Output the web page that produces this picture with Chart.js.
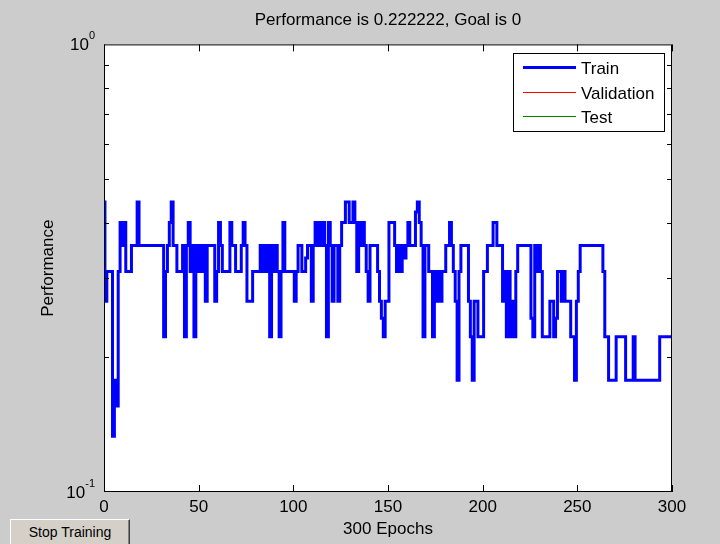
<!DOCTYPE html>
<html>
<head>
<meta charset="utf-8">
<script src="https://cdn.jsdelivr.net/npm/chart.js@4.4.0/dist/chart.umd.min.js"></script>
<style>
  html, body { margin: 0; padding: 0; background: #cccccc; }
  #wrap { position: relative; width: 720px; height: 544px; overflow: hidden; }
  #perf { position: absolute; left: 0; top: 0; }
  #stop {
    position: absolute; left: 10px; top: 519px; width: 120px; height: 30px;
    background: #d4d0c8; color: #000; padding: 0 0 4px 0; margin: 0;
    border: 1px solid; border-color: #ffffff #404040 #404040 #ffffff;
    box-shadow: inset -1px -1px 0 #808080;
    font: 14px 'Liberation Sans', Arial, sans-serif;
  }
</style>
</head>
<body>
<div id="wrap">
  <canvas id="perf" width="720" height="544"></canvas>
  <button id="stop">Stop Training</button>
</div>
<script>
// training performance per epoch (0..300)
const trainPerf = [
  0.4444, 0.2667, 0.3111, 0.3111, 0.3111, 0.1333, 0.1778, 0.1556, 0.3111, 0.4,
  0.3556, 0.4, 0.3111, 0.3111, 0.3111, 0.3556, 0.3556, 0.3556, 0.4444, 0.3556,
  0.3556, 0.3556, 0.3556, 0.3556, 0.3556, 0.3556, 0.3556, 0.3556, 0.3556, 0.3556,
  0.3556, 0.3556, 0.2222, 0.3111, 0.3556, 0.4, 0.4444, 0.3556, 0.3556, 0.3111,
  0.3111, 0.3111, 0.3556, 0.2222, 0.3556, 0.4, 0.3111, 0.3556, 0.2222, 0.3556,
  0.3111, 0.3556, 0.3111, 0.3556, 0.2667, 0.3556, 0.3556, 0.3556, 0.3556, 0.2667,
  0.3111, 0.4, 0.3556, 0.3111, 0.3111, 0.3111, 0.3111, 0.4, 0.3556, 0.3556,
  0.3111, 0.3111, 0.3111, 0.3556, 0.4, 0.3556, 0.2667, 0.2667, 0.2667, 0.3111,
  0.3111, 0.3111, 0.3111, 0.3556, 0.3111, 0.3556, 0.3111, 0.3556, 0.2222, 0.3556,
  0.3111, 0.3556, 0.3111, 0.2222, 0.3111, 0.4, 0.3111, 0.3111, 0.3111, 0.3111,
  0.3111, 0.2667, 0.3111, 0.3556, 0.3556, 0.3111, 0.3111, 0.3333, 0.3556, 0.3556,
  0.2667, 0.3556, 0.4, 0.3556, 0.4, 0.3556, 0.4, 0.3556, 0.2222, 0.4,
  0.3556, 0.2667, 0.3556, 0.3556, 0.2667, 0.3556, 0.4, 0.4, 0.4444, 0.4444,
  0.4, 0.4, 0.4444, 0.4, 0.3111, 0.4, 0.3556, 0.4, 0.3556, 0.3111,
  0.2667, 0.3556, 0.3556, 0.3556, 0.3556, 0.3111, 0.2667, 0.2444, 0.2222, 0.2667,
  0.2667, 0.4, 0.4, 0.4, 0.3556, 0.3111, 0.3556, 0.3111, 0.3556, 0.3333,
  0.3556, 0.4, 0.3556, 0.3556, 0.3556, 0.4222, 0.4444, 0.4, 0.3556, 0.2222,
  0.3556, 0.3556, 0.3111, 0.3111, 0.2222, 0.3111, 0.2667, 0.3111, 0.2667, 0.3111,
  0.3111, 0.3556, 0.3556, 0.4, 0.3556, 0.3111, 0.2667, 0.1778, 0.3111, 0.3556,
  0.3556, 0.3556, 0.3556, 0.2667, 0.2222, 0.1778, 0.2667, 0.2667, 0.2222, 0.2222,
  0.2222, 0.3111, 0.3111, 0.3556, 0.3556, 0.3556, 0.4, 0.4, 0.3556, 0.3556,
  0.3556, 0.2667, 0.3111, 0.2222, 0.3111, 0.2222, 0.2667, 0.2222, 0.3111, 0.3556,
  0.3556, 0.3556, 0.3556, 0.3556, 0.3556, 0.3556, 0.2444, 0.2222, 0.3556, 0.3111,
  0.3556, 0.3111, 0.2222, 0.2222, 0.2222, 0.2222, 0.2667, 0.2667, 0.2222, 0.2444,
  0.3111, 0.3111, 0.2667, 0.3111, 0.2667, 0.2667, 0.2667, 0.2222, 0.2222, 0.1778,
  0.2667, 0.3111, 0.3556, 0.3556, 0.3556, 0.3556, 0.3556, 0.3556, 0.3556, 0.3556,
  0.3556, 0.3556, 0.3556, 0.3556, 0.3111, 0.2222, 0.2222, 0.1778, 0.1778, 0.1778,
  0.1778, 0.2222, 0.2222, 0.2222, 0.2222, 0.2222, 0.1778, 0.1778, 0.1778, 0.1778,
  0.2222, 0.1778, 0.1778, 0.1778, 0.1778, 0.1778, 0.1778, 0.1778, 0.1778, 0.1778,
  0.1778, 0.1778, 0.1778, 0.1778, 0.2222, 0.2222, 0.2222, 0.2222, 0.2222, 0.2222,
  0.2222
];
const valPerf = [];
const testPerf = [];

const xTicks = [0, 50, 100, 150, 200, 250, 300];
const yMajor = [0.1, 1];
const yExp = ['-1', '0'];
const yMinor = [0.2, 0.3, 0.4, 0.5, 0.6, 0.7, 0.8, 0.9];

const FONT = "'Liberation Sans', Arial, sans-serif";

// white axes background
const axesBg = {
  id: 'axesBg',
  beforeDraw(chart) {
    const { ctx, chartArea: a } = chart;
    ctx.save();
    ctx.fillStyle = '#ffffff';
    ctx.fillRect(a.left, a.top, a.right - a.left, a.bottom - a.top);
    ctx.restore();
  }
};

// box, inward ticks, 10^n labels and legend, matlab style
const matlabAxes = {
  id: 'matlabAxes',
  afterDatasetsDraw(chart) {
    const { ctx, chartArea: a, scales: { x, y } } = chart;
    ctx.save();
    ctx.strokeStyle = '#000';
    ctx.lineWidth = 1;
    ctx.strokeRect(a.left + 0.5, a.top + 0.5, a.right - a.left - 1, a.bottom - a.top - 1);

    const seg = (x1, y1, x2, y2) => {
      ctx.beginPath(); ctx.moveTo(x1, y1); ctx.lineTo(x2, y2); ctx.stroke();
    };
    xTicks.forEach(v => {
      const px = Math.round(x.getPixelForValue(v)) + 0.5;
      seg(px, a.bottom, px, a.bottom - 7);
      seg(px, a.top, px, a.top + 7);
    });
    yMinor.forEach(v => {
      const py = Math.round(y.getPixelForValue(v)) + 0.5;
      seg(a.left, py, a.left + 5, py);
      seg(a.right, py, a.right - 5, py);
    });

    // y labels: 10 with superscript exponent
    ctx.fillStyle = '#000';
    ctx.textBaseline = 'middle';
    ctx.textAlign = 'right';
    yMajor.forEach((v, i) => {
      const py = y.getPixelForValue(v);
      ctx.font = '11px ' + FONT;
      const ew = ctx.measureText(yExp[i]).width;
      ctx.fillText(yExp[i], 95, py - 8);
      ctx.font = '17px ' + FONT;
      ctx.fillText('10', 95 - ew, py + 1);
    });

    // legend
    const lx = 513, ly = 53, lw = 151, lh = 78;
    ctx.fillStyle = '#fff';
    ctx.fillRect(lx, ly, lw, lh);
    ctx.strokeRect(lx + 0.5, ly + 0.5, lw, lh);
    ctx.textAlign = 'left';
    ctx.font = '17px ' + FONT;
    const rows = [67, 92, 116];
    chart.data.datasets.forEach((ds, i) => {
      const ry = rows[i] + (ds.borderWidth % 2 ? 0.5 : 0);
      ctx.strokeStyle = ds.borderColor;
      ctx.lineWidth = ds.borderWidth;
      seg(523, ry, 576, ry);
      ctx.fillStyle = '#000';
      ctx.fillText(ds.label, 581, rows[i] + 2);
    });
    ctx.restore();
  }
};

new Chart(document.getElementById('perf'), {
  type: 'line',
  data: {
    datasets: [
      { label: 'Train', data: trainPerf.map((v, i) => ({ x: i, y: v })),
        borderColor: 'rgb(0,0,255)', borderWidth: 3, pointRadius: 0, stepped: 'middle' },
      { label: 'Validation', data: valPerf,
        borderColor: 'rgb(255,0,0)', borderWidth: 1, pointRadius: 0 },
      { label: 'Test', data: testPerf,
        borderColor: 'rgb(0,128,0)', borderWidth: 1, pointRadius: 0 }
    ]
  },
  options: {
    responsive: false,
    animation: false,
    layout: { padding: { left: 0, right: 48, top: 0, bottom: 0 } },
    plugins: {
      legend: { display: false },
      tooltip: { enabled: false },
      title: {
        display: true,
        fullSize: false,
        text: 'Performance is 0.222222, Goal is 0',
        color: '#000',
        font: { family: FONT, size: 17, weight: 'normal' },
        padding: { top: 10, bottom: 14 }
      }
    },
    scales: {
      x: {
        type: 'linear', min: 0, max: 300,
        grid: { display: false },
        border: { display: false },
        ticks: { stepSize: 50, color: '#000', padding: -3, font: { family: FONT, size: 17 } },
        title: { display: true, text: '300 Epochs', color: '#000',
                 font: { family: FONT, size: 17 }, padding: { top: 0, bottom: 4 } },
        afterFit(scale) { scale.height = 52; }
      },
      y: {
        type: 'logarithmic', min: 0.1, max: 1,
        grid: { display: false },
        border: { display: false },
        ticks: { display: false },
        title: { display: true, text: 'Performance', color: '#000',
                 font: { family: FONT, size: 17 }, padding: { top: 38, bottom: 0 } },
        afterFit(scale) { scale.width = 104; }
      }
    }
  },
  plugins: [axesBg, matlabAxes]
});
</script>
</body>
</html>
